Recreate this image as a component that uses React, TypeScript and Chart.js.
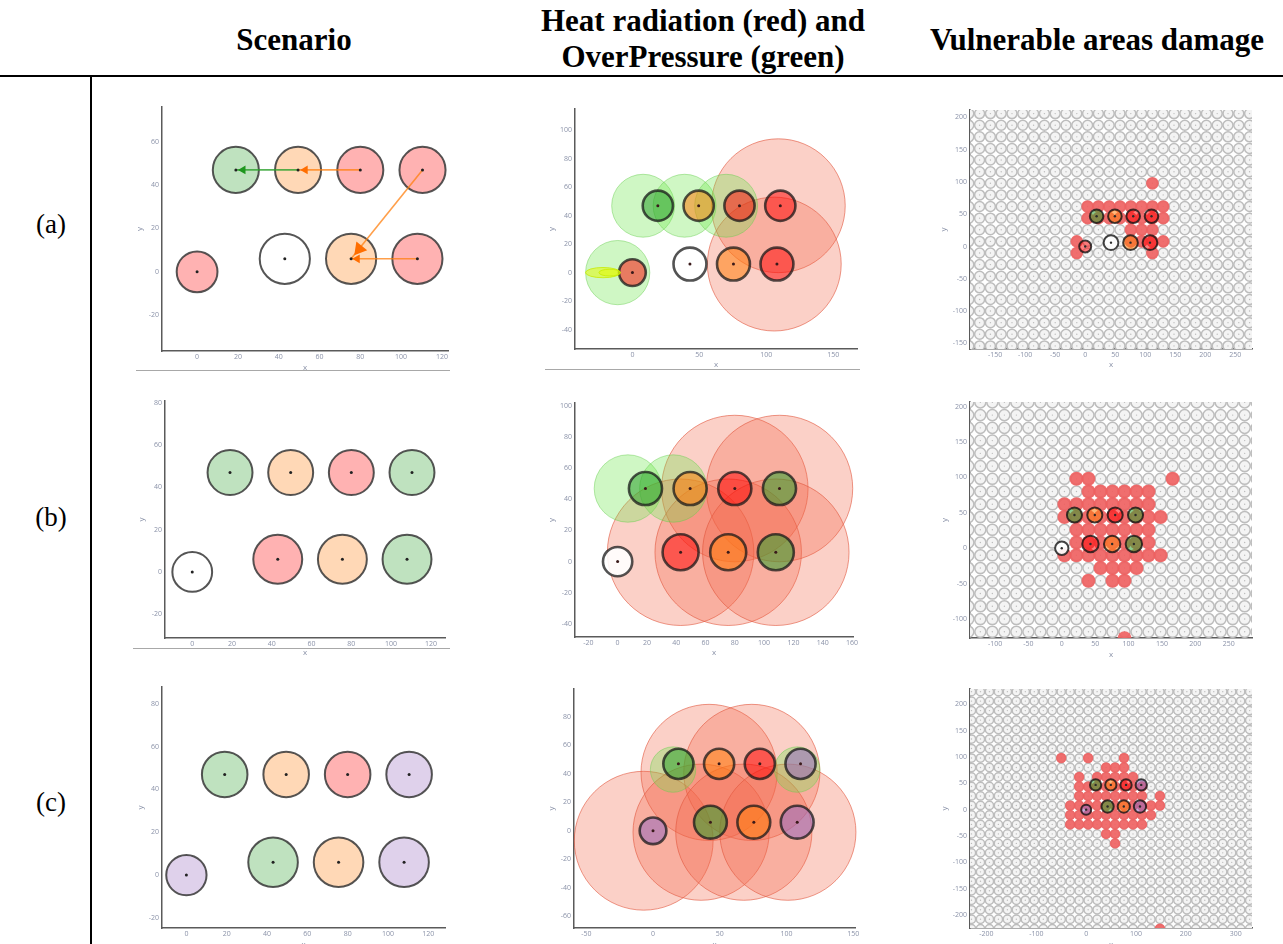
import React, { useEffect, useRef } from 'react';
import { Chart, registerables } from 'chart.js';

Chart.register(...registerables);

// ---------------- DATA ----------------
// storage tanks (same layout in every scenario)
const TANK_X = [0, 19, 49.5, 80, 110.5, 43, 75.5, 108];
const TANK_Y = [0, 47, 47, 47, 47, 6, 6, 6];
const TANK_R = [10, 11.3, 11.3, 11.3, 11.3, 12.3, 12.3, 12.3];

// tank state per scenario
const STATE_A = ['red', 'green', 'orange', 'red', 'red', 'white', 'orange', 'red'];
const STATE_B = ['white', 'green', 'orange', 'red', 'green', 'red', 'orange', 'green'];
const STATE_C = ['purple', 'green', 'orange', 'red', 'purple', 'green', 'orange', 'purple'];

// domino arrows of scenario (a)
const ARROW_X0 = [80, 49.5, 110.5, 108];
const ARROW_Y0 = [47, 47, 47, 6];
const ARROW_X1 = [49.5, 19, 75.5, 75.5];
const ARROW_Y1 = [47, 47, 6, 6];
const ARROW_HEAD_X = [53, 22.5, 79.5, 78.5];
const ARROW_HEAD_Y = [47, 47, 10.5, 6];
const ARROW_KIND = ['orange', 'green', 'orange', 'orange'];

// heat radiation (red) and overpressure (green) circles
const HEAT_A_X = [109, 106];
const HEAT_A_Y = [47, 6];
const HEAT_A_R = [50, 50];
const OP_A_X = [8, 39, 70, -11];
const OP_A_Y = [47, 47, 47, 0];
const OP_A_R = [23.5, 23.5, 23.5, 24];
const FLASH_A_X = [-22, -17];
const FLASH_A_Y = [0, 0];
const FLASH_A_RX = [13, 8];
const FLASH_A_RY = [3.6, 2.4];

const HEAT_B_X = [80, 110.5, 43, 75.5, 108];
const HEAT_B_Y = [47, 47, 6, 6, 6];
const HEAT_B_R = [50, 50, 50, 50, 50];
const OP_B_X = [7, 38];
const OP_B_Y = [47, 47];
const OP_B_R = [23, 23];

const HEAT_C_X = [-7, 42, 74, 36, 68, 101];
const HEAT_C_Y = [-7, 41, 41, -1, -1, -1];
const HEAT_C_R = [52, 51, 51, 51, 51, 51];
const OP_C_X = [15, 108];
const OP_C_Y = [43, 43];
const OP_C_R = [17, 17];

// vulnerability grid
const GRID_X = [-230, -212, -194, -176, -158, -140, -122, -104, -86, -68, -50, -32, -14, 4, 22, 40, 58, 76, 94, 112, 130, 148, 166, 184, 202, 220, 238, 256, 274, 292, 310, 328];
const GRID_Y = [-226, -208, -190, -172, -154, -136, -118, -100, -82, -64, -46, -28, -10, 8, 26, 44, 62, 80, 98, 116, 134, 152, 170, 188, 206, 224];

// damaged grid cells (rows)
const VULN_A_ROW_Y = [98, 62, 44, 26, 8, -10];
const VULN_A_ROW_X = [
  [112],
  [4, 22, 40, 58, 76, 94, 112, 130],
  [4, 22, 40, 58, 76, 94, 112, 130],
  [76, 94, 112],
  [-14, 76, 94, 112, 130],
  [-14, 112],
];
const VULN_B_ROW_Y = [98, 80, 62, 44, 26, 8, -10, -28, -46, -127];
const VULN_B_ROW_X = [
  [22, 40, 166],
  [40, 58, 76, 94, 112, 130],
  [4, 22, 40, 58, 76, 94, 112, 130],
  [4, 22, 40, 58, 76, 94, 112, 130, 148],
  [22, 40, 58, 76, 94, 112, 130],
  [22, 40, 58, 76, 94, 112, 130],
  [4, 22, 40, 58, 76, 94, 112, 130, 148],
  [58, 76, 94, 112],
  [40, 76, 94],
  [94],
];
const VULN_C_ROW_Y = [98, 80, 62, 44, 26, 8, -10, -28, -46, -64, -226];
const VULN_C_ROW_X = [
  [-50, 4, 76],
  [40, 58, 76],
  [-14, 22, 40, 58, 76, 94],
  [-14, 4, 22, 40, 58, 76, 94, 112],
  [-14, 4, 22, 40, 58, 76, 94, 112, 148],
  [-32, -14, 4, 22, 40, 58, 76, 94, 112, 130, 148],
  [-32, -14, 4, 22, 40, 58, 76, 94, 112, 130],
  [-32, -14, 4, 22, 40, 58, 76, 94, 112],
  [40, 58],
  [58],
  [148],
];

// tick labels
const SCN_A_XT = [0, 20, 40, 60, 80, 100, 120];
const SCN_A_YT = [-20, 0, 20, 40, 60];
const HEAT_A_XT = [0, 50, 100, 150];
const HEAT_A_YT = [-40, -20, 0, 20, 40, 60, 80, 100];
const VULN_A_XT = [-150, -100, -50, 0, 50, 100, 150, 200, 250];
const VULN_A_YT = [-150, -100, -50, 0, 50, 100, 150, 200];
const SCN_B_XT = [0, 20, 40, 60, 80, 100, 120];
const SCN_B_YT = [-20, 0, 20, 40, 60, 80];
const HEAT_B_XT = [-20, 0, 20, 40, 60, 80, 100, 120, 140, 160];
const HEAT_B_YT = [-40, -20, 0, 20, 40, 60, 80, 100];
const VULN_B_XT = [-100, -50, 0, 50, 100, 150, 200, 250];
const VULN_B_YT = [-100, -50, 0, 50, 100, 150, 200];
const SCN_C_XT = [0, 20, 40, 60, 80, 100, 120];
const SCN_C_YT = [-20, 0, 20, 40, 60, 80];
const HEAT_C_XT = [-50, 0, 50, 100, 150];
const HEAT_C_YT = [-60, -40, -20, 0, 20, 40, 60, 80];
const VULN_C_XT = [-200, -100, 0, 100, 200, 300];
const VULN_C_YT = [-200, -150, -100, -50, 0, 50, 100, 150, 200];

// ---------------- STYLE ----------------
const AXW = 44;
const AXH = 30;
const PADT = 8;
const PADR = 16;
const TICK_COLOR = '#8a92a8';
const AXIS_COLOR = '#5a5a5a';
const FONT = "'Open Sans', 'DejaVu Sans', sans-serif";
const SERIF = "'Liberation Serif', 'Times New Roman', serif";

const FILL_SCN: Record<string, string> = {
  red: 'rgba(255,0,0,0.3)',
  green: 'rgba(44,160,44,0.3)',
  orange: 'rgba(255,127,14,0.3)',
  purple: 'rgba(148,103,189,0.3)',
  white: 'rgba(255,255,255,0.3)',
};
const FILL_TANK: Record<string, string> = {
  red: 'rgba(255,0,0,0.5)',
  green: 'rgba(44,160,44,0.55)',
  orange: 'rgba(255,127,14,0.55)',
  purple: 'rgba(148,103,189,0.55)',
  white: 'rgba(255,255,255,0.9)',
};
const ARROW_COLOR: Record<string, string> = {
  orange: 'rgba(255,127,14,0.75)',
  green: 'rgba(44,160,44,0.8)',
};
const ARROW_HEAD_COLOR: Record<string, string> = {
  orange: 'rgba(255,110,0,1)',
  green: 'rgba(30,150,30,1)',
};
const ARROW_HEAD_SIZE = [5, 5, 8, 5];

// ---------------- HELPERS ----------------
type Pt = { x: number; y: number; r?: number };

function scaledRadius(ctx: any): number {
  const raw = ctx.raw as Pt | undefined;
  if (!raw || raw.r === undefined) return 0;
  const xs = ctx.chart.scales.x;
  return Math.abs(xs.getPixelForValue(raw.x + raw.r) - xs.getPixelForValue(raw.x));
}
function unitRadius(units: number) {
  return (ctx: any) => {
    const xs = ctx.chart.scales.x;
    return Math.abs(xs.getPixelForValue(units) - xs.getPixelForValue(0));
  };
}
function circles(xs: number[], ys: number[], rs: number[]): Pt[] {
  return xs.map((x, i) => ({ x, y: ys[i], r: rs[i] }));
}
function tankPoints(): Pt[] {
  return circles(TANK_X, TANK_Y, TANK_R);
}
function centerPoints(): Pt[] {
  return TANK_X.map((x, i) => ({ x, y: TANK_Y[i] }));
}
function rowsToPoints(rowsY: number[], rowsX: number[][]): Pt[] {
  const out: Pt[] = [];
  rowsY.forEach((y, i) => rowsX[i].forEach((x) => out.push({ x, y })));
  return out;
}
function gridPoints(): Pt[] {
  const out: Pt[] = [];
  GRID_Y.forEach((y) => GRID_X.forEach((x) => out.push({ x, y })));
  return out;
}

function circleDataset(data: Pt[], fill: any, border: any, bw: number, order: number, radius: any = scaledRadius, clip: any = false) {
  return {
    type: 'scatter',
    data,
    pointRadius: radius,
    pointHoverRadius: radius,
    pointBackgroundColor: fill,
    pointHoverBackgroundColor: fill,
    pointBorderColor: border,
    pointHoverBorderColor: border,
    pointBorderWidth: bw,
    pointHoverBorderWidth: bw,
    order,
    clip,
  };
}
function dotDataset(color: string, r: number) {
  return {
    type: 'scatter',
    data: centerPoints(),
    pointRadius: r,
    pointHoverRadius: r,
    pointBackgroundColor: color,
    pointBorderWidth: 0,
    order: 1,
    clip: false,
  };
}

function scenarioSets(state: string[], arrows: boolean) {
  const sets: any[] = [
    circleDataset(tankPoints(), state.map((s) => FILL_SCN[s]), 'rgba(55,55,55,0.85)', 2, 5),
    dotDataset('#222', 1.5),
  ];
  if (arrows) {
    ARROW_X0.forEach((x0, i) => {
      sets.push({
        type: 'scatter',
        showLine: true,
        data: [{ x: x0, y: ARROW_Y0[i] }, { x: ARROW_X1[i], y: ARROW_Y1[i] }],
        borderColor: ARROW_COLOR[ARROW_KIND[i]],
        borderWidth: 1.6,
        pointRadius: 0,
        pointHoverRadius: 0,
        order: 4,
        clip: false,
      });
    });
    sets.push({
      type: 'scatter',
      data: ARROW_HEAD_X.map((x, i) => ({ x, y: ARROW_HEAD_Y[i] })),
      pointStyle: 'triangle',
      pointRadius: ARROW_HEAD_SIZE,
      pointHoverRadius: ARROW_HEAD_SIZE,
      pointBackgroundColor: ARROW_KIND.map((k) => ARROW_HEAD_COLOR[k]),
      pointBorderWidth: 0,
      pointRotation: (ctx: any) => {
        const i = ctx.dataIndex;
        const xs = ctx.chart.scales.x;
        const ys = ctx.chart.scales.y;
        const dx = xs.getPixelForValue(ARROW_X1[i]) - xs.getPixelForValue(ARROW_X0[i]);
        const dy = ys.getPixelForValue(ARROW_Y1[i]) - ys.getPixelForValue(ARROW_Y0[i]);
        return (Math.atan2(dx, -dy) * 180) / Math.PI;
      },
      order: 2,
      clip: false,
    });
  }
  return sets;
}

function heatSets(state: string[], hx: number[], hy: number[], hr: number[], ox: number[], oy: number[], or: number[]) {
  return [
    circleDataset(circles(hx, hy, hr), 'rgba(242,100,70,0.3)', 'rgba(225,85,60,0.6)', 1, 9),
    circleDataset(circles(ox, oy, or), 'rgba(105,230,70,0.32)', 'rgba(100,205,75,0.45)', 1, 8),
    circleDataset(tankPoints(), state.map((s) => FILL_TANK[s]), 'rgba(25,25,25,0.75)', 2.6, 5),
    dotDataset('#3a1a1a', 1.5),
  ];
}

function vulnSets(state: string[], rowsY: number[], rowsX: number[][]) {
  return [
    circleDataset(gridPoints(), '#f4f4f4', '#bdbdbd', 1.5, 10, unitRadius(8.3), 0),
    {
      type: 'scatter',
      data: gridPoints(),
      pointRadius: 0.7,
      pointHoverRadius: 0.7,
      pointBackgroundColor: '#bcbcbc',
      pointBorderWidth: 0,
      order: 9,
      clip: 0,
    },
    circleDataset(rowsToPoints(rowsY, rowsX), 'rgba(240,95,95,0.9)', 'rgba(240,95,95,0)', 0, 6, unitRadius(10.5), 0),
    circleDataset(tankPoints(), state.map((s) => FILL_TANK[s]), 'rgba(20,20,20,0.8)', 2, 3),
    dotDataset('#2a2a2a', 1.2),
  ];
}

const ellipsePlugin = {
  id: 'ellipses',
  afterDatasetsDraw(chart: any, _args: any, opts: any) {
    const items = (opts && opts.items) || [];
    if (!items.length) return;
    const { ctx, chartArea } = chart;
    const xs = chart.scales.x;
    const ys = chart.scales.y;
    ctx.save();
    ctx.beginPath();
    ctx.rect(chartArea.left, chartArea.top, chartArea.right - chartArea.left, chartArea.bottom - chartArea.top);
    ctx.clip();
    for (const it of items) {
      const cx = xs.getPixelForValue(it.x);
      const cy = ys.getPixelForValue(it.y);
      const rx = Math.abs(xs.getPixelForValue(it.x + it.rx) - cx);
      const ry = Math.abs(ys.getPixelForValue(it.y + it.ry) - cy);
      ctx.beginPath();
      ctx.ellipse(cx, cy, rx, ry, 0, 0, Math.PI * 2);
      ctx.fillStyle = 'rgba(225,250,0,0.5)';
      ctx.fill();
      ctx.strokeStyle = 'rgba(200,235,0,0.8)';
      ctx.lineWidth = 1;
      ctx.stroke();
    }
    ctx.restore();
  },
};

type PanelSpec = {
  key: string;
  L: number; T: number; R: number; B: number;
  xMin: number; xMax: number; yMin: number; yMax: number;
  xTicks: number[]; yTicks: number[];
  ydx: number; xdy: number;
  datasets: any[];
  ellipses?: any[];
};

function buildConfig(spec: PanelSpec): any {
  const lh = 8 * 1.2;
  const tickFont = { family: FONT, size: 7 };
  const titleFont = { family: FONT, size: 8 };
  return {
    type: 'scatter',
    data: { datasets: spec.datasets },
    plugins: [ellipsePlugin],
    options: {
      animation: false,
      responsive: false,
      maintainAspectRatio: false,
      events: [],
      layout: { padding: { top: PADT, right: PADR, left: 0, bottom: 0 } },
      plugins: {
        legend: { display: false },
        tooltip: { enabled: false },
        ellipses: { items: spec.ellipses || [] },
      },
      scales: {
        x: {
          type: 'linear',
          position: 'bottom',
          min: spec.xMin,
          max: spec.xMax,
          afterFit: (s: any) => { s.height = AXH; },
          afterBuildTicks: (s: any) => { s.ticks = spec.xTicks.map((v) => ({ value: v })); },
          grid: { display: false, drawTicks: false },
          border: { display: true, color: AXIS_COLOR, width: 1.5 },
          ticks: { color: TICK_COLOR, font: tickFont, padding: 2, maxRotation: 0, autoSkip: false, callback: (v: any) => String(v) },
          title: { display: true, text: 'x', color: TICK_COLOR, font: titleFont, padding: { top: 0, bottom: Math.max(0, AXH - spec.xdy - lh / 2) } },
        },
        y: {
          type: 'linear',
          position: 'left',
          min: spec.yMin,
          max: spec.yMax,
          afterFit: (s: any) => { s.width = AXW; },
          afterBuildTicks: (s: any) => { s.ticks = spec.yTicks.map((v) => ({ value: v })); },
          grid: { display: false, drawTicks: false },
          border: { display: true, color: AXIS_COLOR, width: 1.5 },
          ticks: { color: TICK_COLOR, font: tickFont, padding: 3, autoSkip: false, callback: (v: any) => String(v) },
          title: { display: true, text: 'y', color: TICK_COLOR, font: titleFont, padding: { top: Math.max(0, AXW - spec.ydx - lh / 2), bottom: 0 } },
        },
      },
    },
  };
}

function Panel({ spec }: { spec: PanelSpec }) {
  const ref = useRef<HTMLCanvasElement | null>(null);
  const w = spec.R - spec.L + AXW + PADR;
  const h = spec.B - spec.T + PADT + AXH;
  useEffect(() => {
    if (!ref.current) return;
    const chart = new Chart(ref.current, buildConfig(spec));
    return () => chart.destroy();
  }, []);
  return (
    <canvas
      ref={ref}
      width={w}
      height={h}
      style={{ position: 'absolute', left: spec.L - AXW, top: spec.T - PADT, width: w, height: h }}
    />
  );
}

function makePanels(): PanelSpec[] {
  const flashA = FLASH_A_X.map((x, i) => ({ x, y: FLASH_A_Y[i], rx: FLASH_A_RX[i], ry: FLASH_A_RY[i] }));
  return [
    { key: 'sa', L: 162, T: 107, R: 448, B: 351, xMin: -17.2, xMax: 123, yMin: -36.5, yMax: 76, xTicks: SCN_A_XT, yTicks: SCN_A_YT, ydx: 22, xdy: 17, datasets: scenarioSets(STATE_A, true) },
    { key: 'ha', L: 575, T: 109, R: 857, B: 349, xMin: -42.9, xMax: 167.8, yMin: -53.7, yMax: 115, xTicks: HEAT_A_XT, yTicks: HEAT_A_YT, ydx: 23, xdy: 16, datasets: heatSets(STATE_A, HEAT_A_X, HEAT_A_Y, HEAT_A_R, OP_A_X, OP_A_Y, OP_A_R), ellipses: flashA },
    { key: 'va', L: 970, T: 110, R: 1252, B: 349, xMin: -192, xMax: 278, yMin: -158.8, yMax: 211.6, xTicks: VULN_A_XT, yTicks: VULN_A_YT, ydx: 26, xdy: 16, datasets: vulnSets(STATE_A, VULN_A_ROW_Y, VULN_A_ROW_X) },
    { key: 'sb', L: 165, T: 401, R: 445, B: 638, xMin: -13.7, xMax: 127.1, yMin: -31.2, yMax: 80.8, xTicks: SCN_B_XT, yTicks: SCN_B_YT, ydx: 23, xdy: 15, datasets: scenarioSets(STATE_B, false) },
    { key: 'hb', L: 575, T: 403, R: 853, B: 637, xMin: -29.1, xMax: 160.7, yMin: -48.5, yMax: 102, xTicks: HEAT_B_XT, yTicks: HEAT_B_YT, ydx: 23, xdy: 16, datasets: heatSets(STATE_B, HEAT_B_X, HEAT_B_Y, HEAT_B_R, OP_B_X, OP_B_Y, OP_B_R) },
    { key: 'vb', L: 970, T: 402, R: 1252, B: 638, xMin: -137.5, xMax: 285, yMin: -126.8, yMax: 206.5, xTicks: VULN_B_XT, yTicks: VULN_B_YT, ydx: 25, xdy: 17, datasets: vulnSets(STATE_B, VULN_B_ROW_Y, VULN_B_ROW_X) },
    { key: 'sc', L: 162, T: 687, R: 445, B: 928, xMin: -12.1, xMax: 128.3, yMin: -24.7, yMax: 87.8, xTicks: SCN_C_XT, yTicks: SCN_C_YT, ydx: 21, xdy: 17, datasets: scenarioSets(STATE_C, false) },
    { key: 'hc', L: 574, T: 689, R: 855, B: 928, xMin: -59.2, xMax: 151.3, yMin: -68.3, yMax: 99.6, xTicks: HEAT_C_XT, yTicks: HEAT_C_YT, ydx: 22, xdy: 17, datasets: heatSets(STATE_C, HEAT_C_X, HEAT_C_Y, HEAT_C_R, OP_C_X, OP_C_Y, OP_C_R) },
    { key: 'vc', L: 970, T: 689, R: 1252, B: 928, xMin: -233, xMax: 332.7, yMin: -224.6, yMax: 229, xTicks: VULN_C_XT, yTicks: VULN_C_YT, ydx: 25, xdy: 17, datasets: vulnSets(STATE_C, VULN_C_ROW_Y, VULN_C_ROW_X) },
  ];
}

const headerStyle = (center: number, top: number): React.CSSProperties => ({
  position: 'absolute',
  left: center - 300,
  width: 600,
  top,
  textAlign: 'center',
  fontFamily: SERIF,
  fontWeight: 'bold',
  fontSize: 31,
  lineHeight: '31px',
  whiteSpace: 'nowrap',
  color: '#000',
});
const rowLabelStyle = (top: number): React.CSSProperties => ({
  position: 'absolute',
  left: 21,
  width: 60,
  top,
  textAlign: 'center',
  fontFamily: SERIF,
  fontSize: 27,
  lineHeight: '27px',
  color: '#000',
});
const sepStyle = (left: number, right: number, top: number): React.CSSProperties => ({
  position: 'absolute',
  left,
  width: right - left,
  top,
  height: 1,
  background: '#a8a8a8',
});

export default function App() {
  const panels = makePanels();
  return (
    <div style={{ position: 'absolute', left: 0, top: 0, width: 1283, height: 944, overflow: 'hidden', background: '#fff' }}>
      <div style={headerStyle(294, 24)}>Scenario</div>
      <div style={headerStyle(703, 5)}>Heat radiation (red) and</div>
      <div style={headerStyle(703, 41)}>OverPressure (green)</div>
      <div style={headerStyle(1097, 24)}>Vulnerable areas damage</div>
      <div style={{ position: 'absolute', left: 0, width: 1283, top: 75, height: 2, background: '#000' }} />
      <div style={{ position: 'absolute', left: 90, width: 2, top: 76, height: 870, background: '#000' }} />
      <div style={rowLabelStyle(211)}>(a)</div>
      <div style={rowLabelStyle(504)}>(b)</div>
      <div style={rowLabelStyle(789)}>(c)</div>
      <div style={sepStyle(136, 450, 370)} />
      <div style={sepStyle(545, 860, 369)} />
      <div style={sepStyle(133, 450, 648)} />
      {panels.map((p) => (
        <Panel key={p.key} spec={p} />
      ))}
    </div>
  );
}
